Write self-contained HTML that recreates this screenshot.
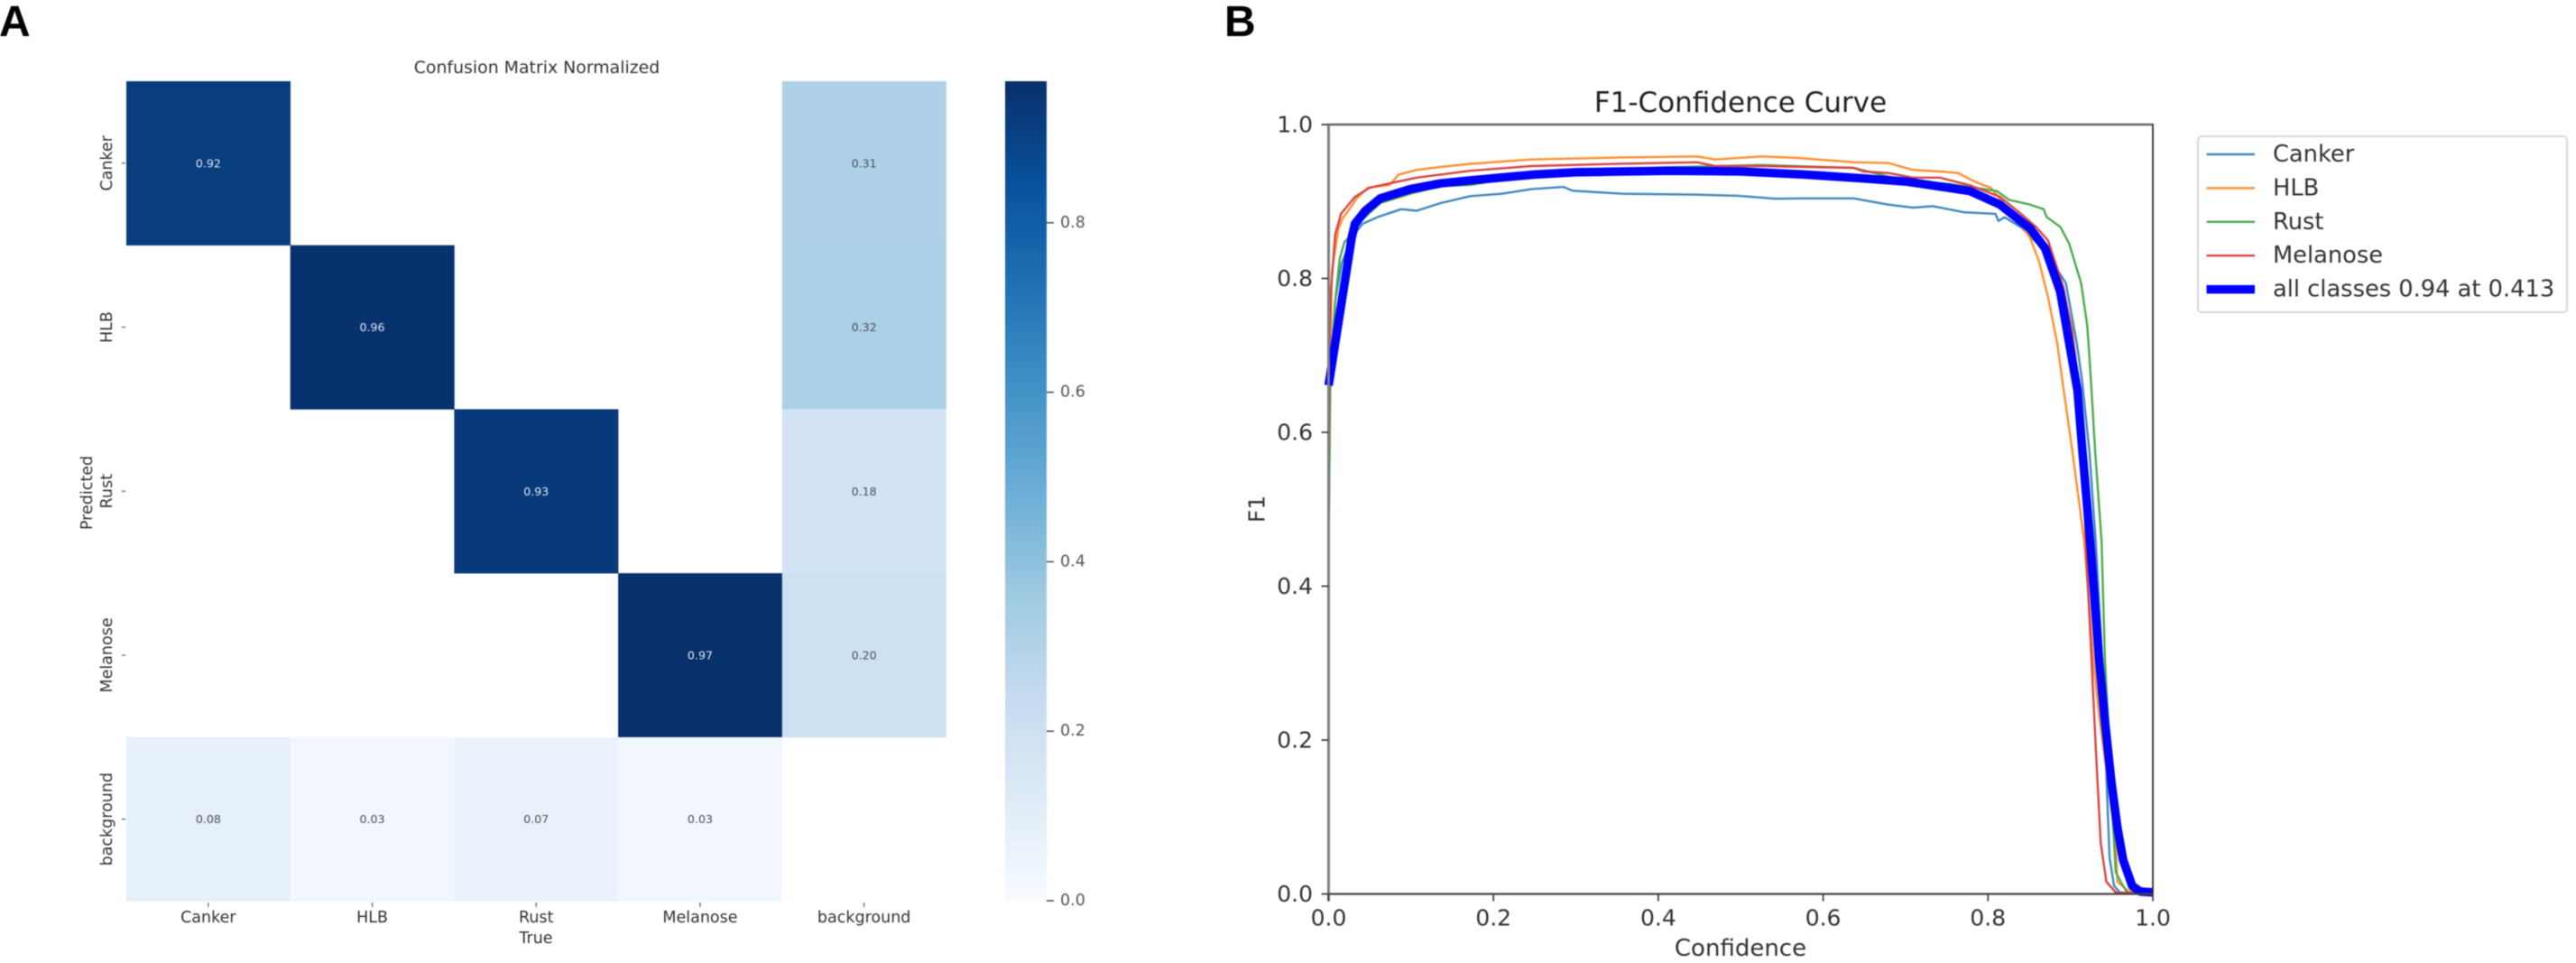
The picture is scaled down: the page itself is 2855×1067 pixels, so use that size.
<!DOCTYPE html>
<html lang="en">
<head>
<meta charset="utf-8">
<title>Confusion Matrix and F1-Confidence Curve</title>
<style>
html,body{margin:0;padding:0;background:#fff;}
body{width:2855px;height:1067px;overflow:hidden;}
svg{display:block;filter:blur(0.6px);}
text{font-family:"DejaVu Sans","Liberation Sans",sans-serif;}
.panel{font-family:"Liberation Sans",sans-serif;font-weight:700;font-size:48px;fill:#000;}
</style>
</head>
<body>
<svg id="figure" xmlns="http://www.w3.org/2000/svg" width="2855" height="1067" viewBox="0 0 2855 1067">
  <defs><linearGradient id="cbar-gradient" x1="0" y1="1" x2="0" y2="0"></linearGradient></defs>
  <rect x="0" y="0" width="2855" height="1067" fill="#fff"/>
  <text class="panel" x="-1" y="40">A</text>
  <text class="panel" x="1357" y="40">B</text>
  <g id="heatmap"></g>
  <g id="colorbar"></g>
  <g id="f1chart"></g>
  <g id="legend"></g>
</svg>
<script>
// ---------- Confusion matrix data ----------
const classLabels = ["Canker", "HLB", "Rust", "Melanose", "background"];
const matrixCanker = [0.92, null, null, null, 0.31];
const matrixHLB = [null, 0.96, null, null, 0.32];
const matrixRust = [null, null, 0.93, null, 0.18];
const matrixMelanose = [null, null, null, 0.97, 0.20];
const matrixBackground = [0.08, 0.03, 0.07, 0.03, null];
const colorbarTicks = [0.0, 0.2, 0.4, 0.6, 0.8];
const colorbarMax = 0.967;

// ---------- F1 curve data: [confidence, F1] ----------
const curveCanker = [[0,0.45],[0.002,0.68],[0.008,0.77],[0.016,0.82],[0.028,0.853],[0.041,0.871],[0.06,0.88],[0.088,0.89],[0.107,0.888],[0.136,0.898],[0.172,0.907],[0.21,0.91],[0.246,0.916],[0.285,0.919],[0.296,0.914],[0.357,0.91],[0.441,0.909],[0.497,0.9075],[0.542,0.9036],[0.577,0.904],[0.637,0.904],[0.679,0.896],[0.709,0.892],[0.733,0.894],[0.771,0.886],[0.809,0.884],[0.8127,0.8746],[0.82,0.8797],[0.84,0.8666],[0.87,0.835],[0.8945,0.794],[0.9077,0.716],[0.914,0.669],[0.923,0.575],[0.9307,0.458],[0.9387,0.302],[0.944,0.145],[0.9475,0.0475],[0.953,0.0103],[0.96,0.002],[1,0]];
const curveHLB = [[0,0.46],[0.001,0.67],[0.004,0.81],[0.012,0.865],[0.017,0.878],[0.024,0.888],[0.034,0.904],[0.048,0.918],[0.074,0.9215],[0.085,0.935],[0.107,0.941],[0.136,0.945],[0.172,0.949],[0.246,0.9546],[0.357,0.9573],[0.447,0.9586],[0.469,0.9546],[0.525,0.9586],[0.57,0.9566],[0.637,0.951],[0.679,0.95],[0.709,0.941],[0.7417,0.939],[0.7636,0.937],[0.7855,0.925],[0.8037,0.9176],[0.8328,0.88],[0.851,0.853],[0.862,0.822],[0.873,0.775],[0.884,0.716],[0.892,0.654],[0.9025,0.575],[0.9168,0.458],[0.928,0.302],[0.935,0.231],[0.945,0.15],[0.955,0.067],[0.957,0.016],[0.97,0.004],[1,0]];
const curveRust = [[0,0.45],[0.002,0.66],[0.008,0.77],[0.0135,0.8255],[0.019,0.847],[0.028,0.857],[0.041,0.8765],[0.0627,0.898],[0.099,0.91],[0.136,0.92],[0.172,0.9215],[0.25,0.935],[0.4,0.944],[0.525,0.9475],[0.637,0.9437],[0.696,0.928],[0.755,0.9226],[0.784,0.918],[0.8108,0.9136],[0.8256,0.902],[0.851,0.896],[0.8675,0.89],[0.871,0.88],[0.888,0.8666],[0.8985,0.845],[0.913,0.794],[0.9203,0.7396],[0.922,0.716],[0.9257,0.654],[0.93,0.575],[0.9378,0.458],[0.942,0.302],[0.947,0.2],[0.951,0.106],[0.955,0.028],[0.964,0.0103],[0.969,0.002],[1,0]];
const curveMelanose = [[0,0.46],[0.001,0.708],[0.003,0.786],[0.008,0.857],[0.015,0.884],[0.032,0.906],[0.05,0.918],[0.074,0.9235],[0.107,0.931],[0.136,0.935],[0.172,0.94],[0.246,0.946],[0.35,0.949],[0.447,0.951],[0.47,0.946],[0.525,0.946],[0.637,0.9437],[0.649,0.939],[0.679,0.937],[0.709,0.931],[0.7417,0.931],[0.778,0.921],[0.8146,0.906],[0.84,0.884],[0.8585,0.8666],[0.873,0.849],[0.891,0.79],[0.902,0.732],[0.911,0.654],[0.9203,0.419],[0.9258,0.302],[0.931,0.184],[0.9367,0.067],[0.9436,0.016],[0.955,0.002],[1,0]];
const curveAll = [[0,0.661],[0.028,0.853],[0.032,0.871],[0.0445,0.888],[0.0627,0.904],[0.099,0.916],[0.136,0.9235],[0.172,0.9275],[0.25,0.935],[0.3,0.938],[0.413,0.94],[0.5,0.939],[0.577,0.935],[0.65,0.93],[0.7,0.926],[0.7417,0.9194],[0.778,0.9136],[0.8146,0.896],[0.851,0.865],[0.8694,0.839],[0.8876,0.783],[0.8985,0.716],[0.9087,0.654],[0.9146,0.575],[0.924,0.458],[0.935,0.302],[0.942,0.2235],[0.9497,0.145],[0.957,0.0866],[0.964,0.044],[0.975,0.0103],[0.985,0.003],[1,0.002]];
const xTickValues = [0.0, 0.2, 0.4, 0.6, 0.8, 1.0];
const yTickValues = [0.0, 0.2, 0.4, 0.6, 0.8, 1.0];
const seriesNames = ["Canker", "HLB", "Rust", "Melanose", "all classes 0.94 at 0.413"];

// ---------- Helpers ----------
const NS = "http://www.w3.org/2000/svg";
function make(parent, tag, attrs, content) {
  const el = document.createElementNS(NS, tag);
  for (const k in attrs) el.setAttribute(k, attrs[k]);
  if (content !== undefined) el.textContent = content;
  parent.appendChild(el);
  return el;
}
const blues = ["#f7fbff","#deebf7","#c6dbef","#9ecae1","#6baed6","#4292c6","#2171b5","#08519c","#08306b"];
function hexRgb(h) { return [1,3,5].map(i => parseInt(h.substr(i,2),16)); }
function bluesAt(t) {
  t = Math.max(0, Math.min(1, t));
  const p = t * (blues.length - 1), i = Math.min(Math.floor(p), blues.length - 2), f = p - i;
  const a = hexRgb(blues[i]), b = hexRgb(blues[i+1]);
  return "rgb(" + a.map((v,j) => Math.round(v + (b[j]-v)*f)).join(",") + ")";
}

// ---------- Heatmap ----------
const matrixRows = [matrixCanker, matrixHLB, matrixRust, matrixMelanose, matrixBackground];
const hmLeft = 140, hmTop = 90, hmCell = 181.7;
const heatX = i => hmLeft + i * hmCell;
const heatY = i => hmTop + i * hmCell;
const heatmap = document.getElementById("heatmap");

const hmTitle = make(heatmap, "text", {x: 595, y: 75, "text-anchor": "middle", "dominant-baseline": "central", "font-size": 18.9, fill: "#333"}, "Confusion Matrix Normalized");



matrixRows.forEach((row, r) => {
  row.forEach((v, c) => {
    if (v === null) return;
    const cell = make(heatmap, "rect", {x: heatX(c), y: heatY(r), width: hmCell + 0.3, height: hmCell + 0.3, fill: bluesAt(v / colorbarMax)});
    
    
    const label = make(heatmap, "text", {x: heatX(c) + hmCell/2, y: heatY(r) + hmCell/2, "text-anchor": "middle", "dominant-baseline": "central", "font-size": 12.6, fill: v > 0.5 ? "#dfe9f3" : "#4a4f57"}, v.toFixed(2));
    
    
  });
});

classLabels.forEach((name, i) => {
  const cx = heatX(i) + hmCell/2, cy = heatY(i) + hmCell/2;
  const xt = make(heatmap, "line", {x1: cx, x2: cx, y1: 1000, y2: 1005, stroke: "#666", "stroke-width": 1.3});
  
  
  const xl = make(heatmap, "text", {x: cx, y: 1017, "text-anchor": "middle", "dominant-baseline": "central", "font-size": 17.5, fill: "#333"}, name);
  
  
  const yt = make(heatmap, "line", {x1: 135, x2: 139, y1: cy, y2: cy, stroke: "#666", "stroke-width": 1.3});
  
  
  const yl = make(heatmap, "text", {x: 119, y: cy, "text-anchor": "middle", "dominant-baseline": "central", "font-size": 17.5, fill: "#333", transform: "rotate(-90 119 " + cy + ")"}, name);
  
  
});

const hmXTitle = make(heatmap, "text", {x: 594, y: 1040, "text-anchor": "middle", "dominant-baseline": "central", "font-size": 17.5, fill: "#333"}, "True");


const hmYTitle = make(heatmap, "text", {x: 97, y: 546, "text-anchor": "middle", "dominant-baseline": "central", "font-size": 17.5, fill: "#333", transform: "rotate(-90 97 546)"}, "Predicted");



// ---------- Colorbar ----------
const cbLeft = 1114, cbRight = 1160, cbTop = 90, cbBottom = 998;
const cbY = v => cbBottom - (v / colorbarMax) * (cbBottom - cbTop);
const grad = document.getElementById("cbar-gradient");
blues.forEach((c, i) => make(grad, "stop", {offset: i / (blues.length - 1), "stop-color": c}));
const colorbar = document.getElementById("colorbar");
const cbRect = make(colorbar, "rect", {x: cbLeft, y: cbTop, width: cbRight - cbLeft, height: cbBottom - cbTop, fill: "url(#cbar-gradient)"});


colorbarTicks.forEach(v => {
  const y = cbY(v);
  const t = make(colorbar, "line", {x1: cbRight, x2: cbRight + 8, y1: y, y2: y, stroke: "#555", "stroke-width": 1.6});
  
  
  const l = make(colorbar, "text", {x: cbRight + 15, y: y, "dominant-baseline": "central", "font-size": 17.5, fill: "#555"}, v.toFixed(1));
  
  
});

// ---------- F1 chart ----------
const pxLeft = 1472.5, pxRight = 2386, pyTop = 138, pyBottom = 990.5;
const xAxis = v => pxLeft + v * (pxRight - pxLeft);
const yAxis = v => pyBottom - v * (pyBottom - pyTop);
const chart = document.getElementById("f1chart");

const seriesData = [curveCanker, curveHLB, curveRust, curveMelanose, curveAll];
const seriesColors = ["#3f88bd", "#ff8f2e", "#4aab4a", "#d84445", "#0000ff"];
const seriesWidths = [2.4, 2.4, 2.4, 2.4, 9.5];

const chartFrame = make(chart, "rect", {x: pxLeft, y: pyTop, width: pxRight - pxLeft, height: pyBottom - pyTop, fill: "#fff"});



seriesData.forEach((pts, i) => {
  const d = pts.map((p, j) => (j ? "L" : "M") + xAxis(p[0]).toFixed(1) + " " + yAxis(p[1]).toFixed(1)).join(" ");
  const path = make(chart, "path", {d: d, fill: "none", stroke: seriesColors[i], "stroke-width": seriesWidths[i], "stroke-linejoin": "round", "stroke-linecap": "butt"});
  
  
});

const spineTop = make(chart, "line", {x1: pxLeft - 1, x2: pxRight + 1, y1: pyTop, y2: pyTop, stroke: "#666", "stroke-width": 2.4});


const spineRight = make(chart, "line", {x1: pxRight, x2: pxRight, y1: pyTop, y2: pyBottom, stroke: "#333", "stroke-width": 1.8});


const spineLeft = make(chart, "line", {x1: pxLeft, x2: pxLeft, y1: pyTop, y2: pyBottom + 8, stroke: "#808080", "stroke-width": 3});


const spineBottom = make(chart, "line", {x1: pxLeft, x2: pxRight, y1: pyBottom, y2: pyBottom, stroke: "#444", "stroke-width": 2.2});



xTickValues.forEach(v => {
  const x = xAxis(v);
  const t = make(chart, "line", {x1: x, x2: x, y1: pyBottom, y2: pyBottom + 8, stroke: "#444", "stroke-width": 1.8});
  
  
  const l = make(chart, "text", {x: x, y: 1017, "text-anchor": "middle", "dominant-baseline": "central", "font-size": 25, fill: "#333"}, v.toFixed(1));
  
  
});
yTickValues.forEach(v => {
  const y = yAxis(v);
  const t = make(chart, "line", {x1: pxLeft - 8, x2: pxLeft, y1: y, y2: y, stroke: "#444", "stroke-width": 1.8});
  
  
  const l = make(chart, "text", {x: 1455, y: y, "text-anchor": "end", "dominant-baseline": "central", "font-size": 25, fill: "#333"}, v.toFixed(1));
  
  
});

const chartTitle = make(chart, "text", {x: 1929, y: 114, "text-anchor": "middle", "dominant-baseline": "central", "font-size": 31, fill: "#222"}, "F1-Confidence Curve");


const chartXTitle = make(chart, "text", {x: 1929, y: 1051, "text-anchor": "middle", "dominant-baseline": "central", "font-size": 26, fill: "#333"}, "Confidence");


const chartYTitle = make(chart, "text", {x: 1393, y: 564, "text-anchor": "middle", "dominant-baseline": "central", "font-size": 25, fill: "#333", transform: "rotate(-90 1393 564)"}, "F1");



// ---------- Legend ----------
const legend = document.getElementById("legend");
const legendBox = make(legend, "rect", {x: 2436, y: 151, width: 409, height: 195, rx: 4, fill: "#fff", stroke: "#d8d8d8", "stroke-width": 2});


seriesNames.forEach((name, i) => {
  const y = 171 + i * 37.4;
  const h = make(legend, "line", {x1: 2445.5, x2: 2499, y1: y, y2: y, stroke: seriesColors[i], "stroke-width": seriesWidths[i]});
  
  
  const l = make(legend, "text", {x: 2519, y: y, "dominant-baseline": "central", "font-size": 25.7, fill: "#333"}, name);
  
  
});
</script>
</body>
</html>
